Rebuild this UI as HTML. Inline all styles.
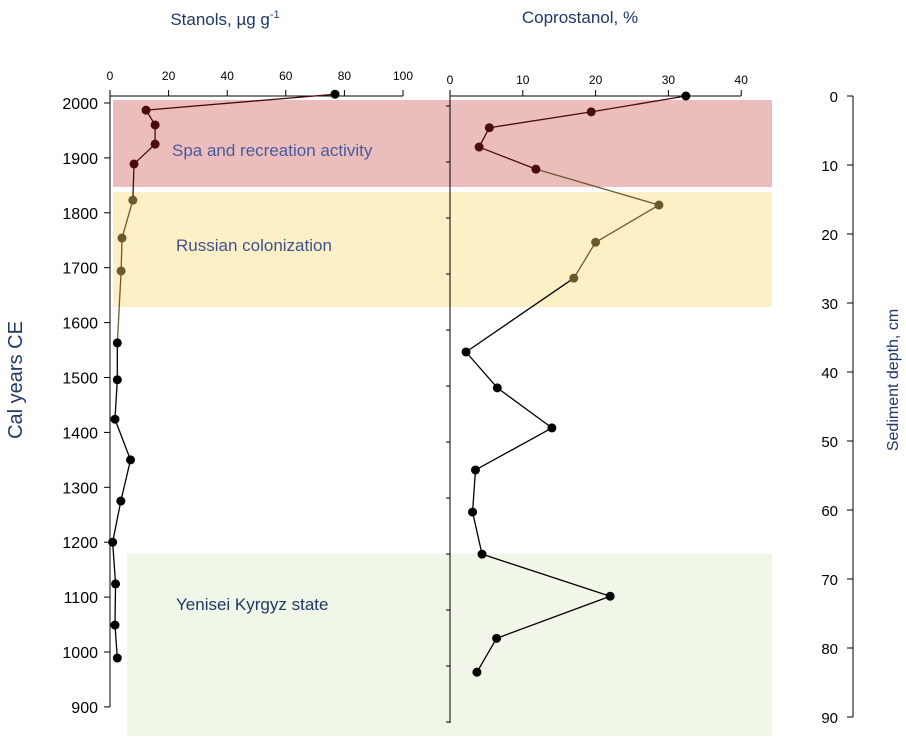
<!DOCTYPE html>
<html><head><meta charset="utf-8"><style>
body{margin:0;background:#fff;}
svg{display:block;font-family:"Liberation Sans",sans-serif;}
</style></head><body>
<svg id="c" width="906" height="738" viewBox="0 0 906 738">
<rect x="113" y="100" width="659" height="87" fill="#ecbdbd"/>
<rect x="113" y="192" width="659" height="115" fill="#fdf0c6"/>
<rect x="127" y="554" width="645" height="182" fill="#f0f7e8"/>
<text x="172" y="156" font-size="17" fill="#4a5a9a">Spa and recreation activity</text>
<text x="176" y="251" font-size="17" fill="#3f5290">Russian colonization</text>
<text x="176" y="610" font-size="17" fill="#1f3864">Yenisei Kyrgyz state</text>
<text x="225" y="25" font-size="17" fill="#1f3864" text-anchor="middle">Stanols, µg g<tspan dy="-7" font-size="11">-1</tspan></text>
<text x="580" y="23" font-size="17" fill="#1f3864" text-anchor="middle">Coprostanol, %</text>
<text transform="translate(22,380) rotate(-90)" font-size="20" fill="#1f3864" text-anchor="middle">Cal years CE</text>
<text transform="translate(898,380) rotate(-90)" font-size="16" fill="#1f3864" text-anchor="middle">Sediment depth, cm</text>
<g id="g"></g>
</svg>
<script>
const yearTicks=[2000,1900,1800,1700,1600,1500,1400,1300,1200,1100,1000,900];
const stanolTicks=[0,20,40,60,80,100];
const coproTicks=[0,10,20,30,40];
const depthTicks=[0,10,20,30,40,50,60,70,80,90];
const stanolYears=[2016,1987,1960,1925,1889,1823,1754,1694,1563,1496,1424,1350,1275,1200,1124,1049,989];
const stanolValues=[76.8,12.3,15.4,15.4,8.2,7.8,4.1,3.8,2.5,2.5,1.7,7.0,3.7,0.9,1.9,1.7,2.5];
const coproDepths=[0,2.3,4.6,7.4,10.6,15.8,21.2,26.4,37.1,42.3,48.1,54.2,60.3,66.4,72.5,78.6,83.5];
const coproValues=[32.4,19.4,5.4,4.0,11.8,28.7,20.0,17.0,2.2,6.5,14.0,3.5,3.1,4.4,22.0,6.4,3.7];

const yYear=v=>103+(2000-v)*0.549;
const xSt=v=>110+v*2.93;
const xCo=v=>450+v*7.28;
const yDep=v=>96+v*6.9;
const g=document.getElementById('g');
const NS='http://www.w3.org/2000/svg';
function mk(t,a){const e=document.createElementNS(NS,t);for(const k in a)e.setAttribute(k,a[k]);g.appendChild(e);return e;}
function col(y){return (y>=100&&y<=187)?'#4a0c0c':(y>187&&y<=307)?'#6b5a2c':'#000';}
let e=mk('line',{x1:110,y1:96,x2:110,y2:707,stroke:'#000'});

yearTicks.forEach(t=>{const y=yYear(t);
 mk('line',{x1:104,y1:y,x2:110,y2:y,stroke:'#000'});
 const tx=mk('text',{x:98,y:y+6,'font-size':16,'text-anchor':'end',fill:'#000'});tx.textContent=t;
 });
e=mk('line',{x1:110,y1:96,x2:403,y2:96,stroke:'#000'});

stanolTicks.forEach(t=>{const x=xSt(t);mk('line',{x1:x,y1:90,x2:x,y2:96,stroke:'#000'});
 const tx=mk('text',{x:x,y:80,'font-size':12,'text-anchor':'middle'});tx.textContent=t;
 });
e=mk('line',{x1:450,y1:96,x2:741,y2:96,stroke:'#000'});

mk('line',{x1:450,y1:96,x2:450,y2:723,stroke:'#000'});
for(let i=0;i<12;i++){const y=106+i*56;mk('line',{x1:446,y1:y,x2:450,y2:y,stroke:'#000'});}
coproTicks.forEach(t=>{const x=xCo(t);mk('line',{x1:x,y1:90,x2:x,y2:96,stroke:'#000'});
 const tx=mk('text',{x:x,y:84,'font-size':12,'text-anchor':'middle'});tx.textContent=t;
 });
e=mk('line',{x1:853,y1:96,x2:853,y2:717,stroke:'#000'});

depthTicks.forEach(t=>{const y=yDep(t);mk('line',{x1:847,y1:y,x2:853,y2:y,stroke:'#000'});
 const tx=mk('text',{x:838,y:y+6,'font-size':15,'text-anchor':'end'});tx.textContent=t;
 });
function series(xs,ys,name){
 for(let i=0;i<xs.length-1;i++){const l=mk('line',{x1:xs[i],y1:ys[i],x2:xs[i+1],y2:ys[i+1],stroke:col((ys[i]+ys[i+1])/2),'stroke-width':1.3});
  }
 xs.forEach((x,i)=>{const c=mk('circle',{cx:x,cy:ys[i],r:4.5,fill:col(ys[i])});
  });
}
series(stanolValues.map(xSt),stanolYears.map(yYear),'stanols');
series(coproValues.map(xCo),coproDepths.map(yDep),'coprostanol');
</script>
</body></html>
